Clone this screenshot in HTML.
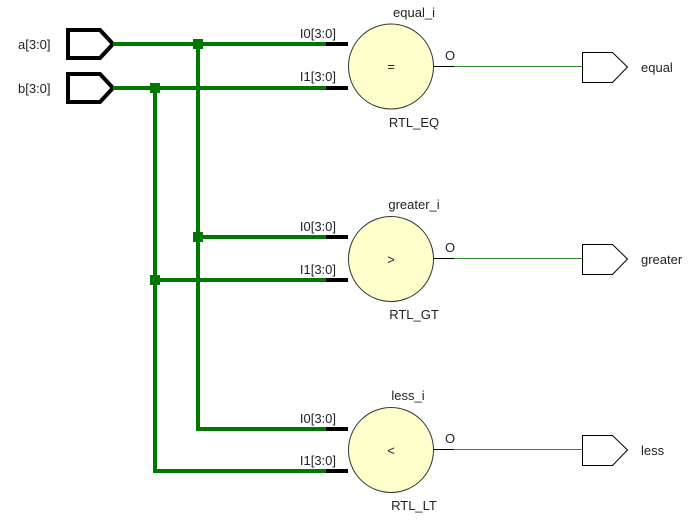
<!DOCTYPE html>
<html><head><style>body{margin:0;background:#fff}svg{display:block}text{font-family:"Liberation Sans",sans-serif;font-size:13px;fill:#222}</style></head><body>
<svg width="700" height="523" viewBox="0 0 700 523">
<g fill="none" stroke="#000" stroke-width="4">
<polygon points="68,30 100,30 113,44 100,58 68,58"/>
<polygon points="68,74 100,74 113,88 100,102 68,102"/>
</g>
<g stroke="#007800" stroke-width="4" fill="none">
<line x1="113" y1="44" x2="327" y2="44"/>
<line x1="113" y1="88" x2="327" y2="88"/>
<polyline points="198,44 198,429 327,429"/>
<polyline points="155,88 155,471 327,471"/>
<line x1="198" y1="237" x2="327" y2="237"/>
<line x1="155" y1="280" x2="327" y2="280"/>
</g>
<g fill="#007800">
<rect x="193" y="39" width="10" height="10"/><rect x="150" y="83" width="10" height="10"/>
<rect x="193" y="232" width="10" height="10"/><rect x="150" y="275" width="10" height="10"/>
</g>
<g stroke="#000" stroke-width="4">
<line x1="326" y1="44" x2="348" y2="44"/><line x1="326" y1="88" x2="348" y2="88"/>
<line x1="326" y1="237" x2="348" y2="237"/><line x1="326" y1="280" x2="348" y2="280"/>
<line x1="326" y1="429" x2="348" y2="429"/><line x1="326" y1="471" x2="348" y2="471"/>
</g>
<g fill="#ffffcc" stroke="#333" stroke-width="1">
<circle cx="391" cy="66.5" r="42.5"/><circle cx="391" cy="259" r="42.5"/><circle cx="391" cy="450" r="42.5"/>
</g>
<g stroke="#000" stroke-width="1">
<line x1="433" y1="66.5" x2="454" y2="66.5"/><line x1="433" y1="258.5" x2="454" y2="258.5"/><line x1="433" y1="449.5" x2="454" y2="449.5"/>
</g>
<g stroke="#2e8b2e" stroke-width="1">
<line x1="454" y1="66.5" x2="582" y2="66.5"/><line x1="454" y1="258.5" x2="582" y2="258.5"/>
</g>
<line x1="454" y1="449.5" x2="582" y2="449.5" stroke="#00b000" stroke-width="1"/>
<g fill="#fff" stroke="#000" stroke-width="1">
<polygon points="582.5,52.5 612.5,52.5 627.5,67 612.5,82.5 582.5,82.5"/>
<polygon points="582.5,244.5 612.5,244.5 627.5,259 612.5,274.5 582.5,274.5"/>
<polygon points="582.5,435.5 612.5,435.5 627.5,450 612.5,465.5 582.5,465.5"/>
</g>
<text x="18" y="49">a[3:0]</text><text x="18" y="93">b[3:0]</text>
<g text-anchor="end"><text x="336" y="38">I0[3:0]</text><text x="336" y="81">I1[3:0]</text>
<text x="336" y="231">I0[3:0]</text><text x="336" y="274">I1[3:0]</text>
<text x="336" y="423">I0[3:0]</text><text x="336" y="465">I1[3:0]</text></g>
<g text-anchor="middle">
<text x="414" y="17">equal_i</text><text x="414" y="127">RTL_EQ</text><text x="391" y="71">=</text>
<text x="414" y="209">greater_i</text><text x="414" y="319">RTL_GT</text><text x="391" y="264">&gt;</text>
<text x="408" y="400">less_i</text><text x="414" y="510">RTL_LT</text><text x="391" y="455">&lt;</text>
</g>
<text x="445" y="60">O</text><text x="445" y="252">O</text><text x="445" y="443">O</text>
<text x="641" y="72">equal</text><text x="641" y="264">greater</text><text x="641" y="455">less</text>
</svg>
</body></html>
